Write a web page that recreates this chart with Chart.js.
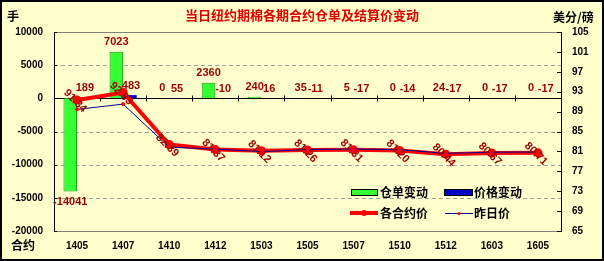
<!DOCTYPE html>
<html><head><meta charset="utf-8">
<script src="https://cdn.jsdelivr.net/npm/chart.js@4/dist/chart.umd.min.js"></script>
<style>html,body{margin:0;padding:0;background:#FFFFCC;} #wrap{width:604px;height:261px;}</style>
</head><body><div id="wrap"><canvas id="c" width="604" height="261"></canvas></div>
<script>
const categories = ['1405','1407','1410','1412','1503','1505','1507','1510','1512','1603','1605'];
const warrantChange = [-14041, 7023, 0, 2360, 240, 35, 5, 0, 24, 0, 0];
const priceChange = [189, 483, 55, -10, 16, -11, -17, -14, -17, -17, -17];
const todayPrice = [91.34, 92.83, 82.39, 81.37, 81.12, 81.26, 81.31, 81.20, 80.44, 80.67, 80.71];
const yesterdayPrice = [89.45, 90.50, 81.84, 81.47, 80.96, 81.37, 81.48, 81.34, 80.61, 80.84, 80.88];

const titleText = '当日纽约期棉各期合约仓单及结算价变动';
const CJK = '"Noto Sans CJK SC", sans-serif';
const NUM = '"Liberation Sans", Arial, sans-serif';
const LABEL_RED = '#990000';

const deco = {
  id: 'deco',
  beforeDraw(chart) {
    const ctx = chart.ctx;
    ctx.save();
    ctx.fillStyle = '#FFFFCC';
    ctx.fillRect(0, 0, chart.width, chart.height);
    ctx.restore();
  },
  beforeDatasetsDraw(chart) {
    const {ctx, chartArea: a, scales: {x, y, y2}} = chart;
    ctx.save();
    ctx.strokeStyle = '#A0A0A0'; ctx.lineWidth = 1; ctx.setLineDash([4, 3]);
    y.ticks.forEach(t => {
      if (t.value === 0 || t.value === y.max || t.value === y.min) return;
      const py = Math.round(y.getPixelForValue(t.value)) + 0.5;
      ctx.beginPath(); ctx.moveTo(a.left, py); ctx.lineTo(a.right, py); ctx.stroke();
    });
    ctx.setLineDash([]);
    ctx.strokeStyle = '#808080';
    ctx.beginPath(); ctx.moveTo(a.left, a.top + 0.5); ctx.lineTo(a.right, a.top + 0.5); ctx.stroke();
    // right axis tick marks
    ctx.strokeStyle = '#000';
    y2.ticks.forEach(t => {
      const py = Math.round(y2.getPixelForValue(t.value)) + 0.5;
      ctx.beginPath(); ctx.moveTo(a.right - 4, py); ctx.lineTo(a.right, py); ctx.stroke();
    });
    y.ticks.forEach(t => {
      const py = Math.round(y.getPixelForValue(t.value)) + 0.5;
      ctx.beginPath(); ctx.moveTo(a.left, py); ctx.lineTo(a.left + 3, py); ctx.stroke();
    });
    // zero line and category ticks
    const zy = Math.round(y.getPixelForValue(0)) + 0.5;
    ctx.beginPath(); ctx.moveTo(a.left, zy); ctx.lineTo(a.right, zy); ctx.stroke();
    const cw = (a.right - a.left) / categories.length;
    for (let i = 1; i < categories.length; i++) {
      const px = Math.round(x.getPixelForValue(i) - cw / 2) + 0.5;
      ctx.beginPath(); ctx.moveTo(px, zy - 3); ctx.lineTo(px, zy + 3); ctx.stroke();
    }
    ctx.restore();
  },
  afterDatasetsDraw(chart) {
    const ctx = chart.ctx;
    ctx.save();
    ctx.fillStyle = LABEL_RED;
    ctx.font = 'bold 11px ' + NUM;
    ctx.textAlign = 'center'; ctx.textBaseline = 'middle';
    const m0 = chart.getDatasetMeta(0).data;
    m0.forEach((el, i) => {
      const v = warrantChange[i];
      const ty = v < 0 ? el.y + 10 : el.y - 10;
      ctx.fillText(String(v), el.x, ty);
    });
    const m1 = chart.getDatasetMeta(1).data;
    m1.forEach((el, i) => {
      const ty = Math.min(el.y, el.base) - 9;
      ctx.fillText(String(priceChange[i]), el.x + 1, ty);
    });
    const m2 = chart.getDatasetMeta(2).data;
    m2.forEach((el, i) => {
      ctx.save();
      ctx.translate(el.x - 2, el.y + 1);
      ctx.rotate(Math.PI / 4);
      ctx.fillText(todayPrice[i].toFixed(2), 0, 0);
      ctx.restore();
    });
    ctx.restore();
  },
  afterDraw(chart) {
    const ctx = chart.ctx;
    ctx.save();
    ctx.fillStyle = '#DD0000';
    ctx.font = 'bold 13px ' + CJK;
    ctx.textAlign = 'center'; ctx.textBaseline = 'middle';
    ctx.fillText(titleText, 302, 15);
    ctx.fillStyle = '#000';
    ctx.font = 'bold 12px ' + CJK;
    ctx.textAlign = 'left';
    ctx.fillText('手', 7, 16);
    ctx.fillText('美分/磅', 553, 17);
    ctx.fillText('合约', 11, 245);
    // legend
    const r1 = 192, r2 = 213;
    ctx.fillStyle = '#33FF33'; ctx.fillRect(351, 189, 26, 6);
    ctx.strokeStyle = '#000'; ctx.lineWidth = 1; ctx.strokeRect(351.5, 189.5, 26, 6);
    ctx.fillStyle = '#0000CC'; ctx.fillRect(444, 189, 28, 6);
    ctx.strokeRect(444.5, 189.5, 28, 6);
    ctx.strokeStyle = '#FF0000'; ctx.lineWidth = 4;
    ctx.beginPath(); ctx.moveTo(350, r2); ctx.lineTo(378, r2); ctx.stroke();
    ctx.fillStyle = '#FF0000'; ctx.beginPath(); ctx.arc(364, r2, 3, 0, Math.PI * 2); ctx.fill();
    ctx.strokeStyle = '#000099'; ctx.lineWidth = 1;
    ctx.beginPath(); ctx.moveTo(445, r2 + 0.5); ctx.lineTo(473, r2 + 0.5); ctx.stroke();
    ctx.fillStyle = '#FF0000'; ctx.beginPath(); ctx.arc(459, r2 + 0.5, 1.5, 0, Math.PI * 2); ctx.fill();
    ctx.fillStyle = '#000';
    ctx.font = 'bold 12px ' + CJK;
    ctx.fillText('仓单变动', 380, r1);
    ctx.fillText('价格变动', 474, r1);
    ctx.fillText('各合约价', 380, r2);
    ctx.fillText('昨日价', 474, r2);
    ctx.strokeStyle = '#000'; ctx.lineWidth = 2;
    ctx.strokeRect(1, 1, chart.width - 2, chart.height - 2);
    ctx.restore();
  }
};

const tickFont = {family: NUM, size: 10, weight: 'bold'};
new Chart(document.getElementById('c'), {
  type: 'bar',
  data: {
    labels: categories,
    datasets: [
      {type: 'bar', label: '仓单变动', data: warrantChange, yAxisID: 'y', backgroundColor: '#33FF33', borderColor: '#119911', borderWidth: 1, categoryPercentage: 0.59, barPercentage: 1, order: 3},
      {type: 'bar', label: '价格变动', data: priceChange, yAxisID: 'y', backgroundColor: '#0000CC', borderWidth: 0, categoryPercentage: 0.59, barPercentage: 1, order: 3},
      {type: 'line', label: '各合约价', data: todayPrice, yAxisID: 'y2', borderColor: '#FF0000', borderWidth: 4, pointRadius: 2.5, pointBackgroundColor: '#FF0000', pointBorderColor: '#FF0000', tension: 0, order: 2},
      {type: 'line', label: '昨日价', data: yesterdayPrice, yAxisID: 'y2', borderColor: '#000099', borderWidth: 1, pointRadius: 1.5, pointBackgroundColor: '#FF0000', pointBorderColor: '#FF0000', tension: 0, order: 1}
    ]
  },
  options: {
    responsive: false, animation: false, devicePixelRatio: 1,
    layout: {padding: {top: 32, left: 0, right: 0, bottom: 0}},
    plugins: {legend: {display: false}, tooltip: {enabled: false}, title: {display: false}},
    scales: {
      x: {grid: {display: false, drawTicks: false}, border: {display: true, color: '#808080'},
          ticks: {font: tickFont, color: '#000', padding: 9, maxRotation: 0, autoSkip: false},
          afterFit(s) { s.height = 30; }},
      y: {position: 'left', min: -20000, max: 10000,
          ticks: {stepSize: 5000, font: tickFont, color: '#000', padding: 11, callback: v => String(v)},
          grid: {display: false, drawTicks: false}, border: {display: true, color: '#000'},
          afterFit(s) { s.width = 54; }},
      y2: {position: 'right', min: 65, max: 105,
          ticks: {stepSize: 4, font: tickFont, color: '#000', padding: 11, callback: v => String(v)},
          grid: {display: false, drawTicks: false}, border: {display: true, color: '#000'},
          afterFit(s) { s.width = 43; }}
    }
  },
  plugins: [deco]
});
</script>
</body></html>
